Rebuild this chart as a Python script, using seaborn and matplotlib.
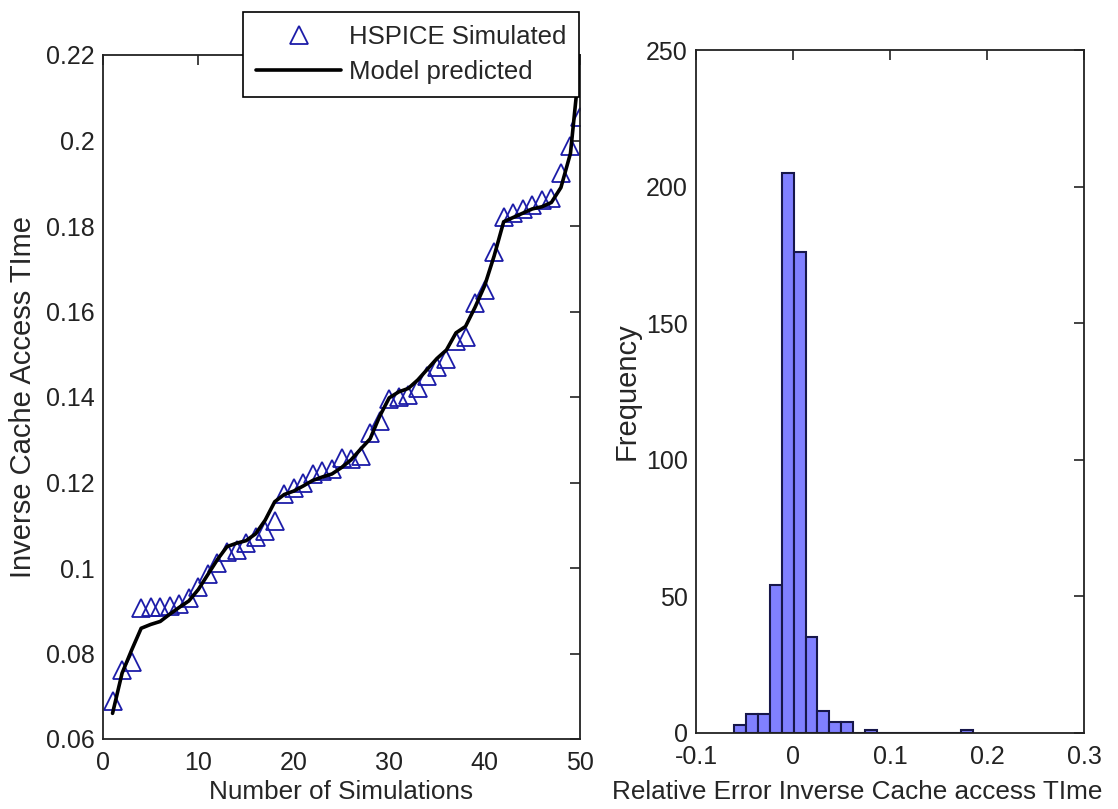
import numpy as np
import pandas as pd
import matplotlib
matplotlib.use("Agg")
import matplotlib.pyplot as plt
import seaborn as sns

# ---------------- data ----------------
sim_index = list(range(1, 51))
hspice_simulated = [0.0690, 0.0762, 0.0780, 0.0907, 0.0908, 0.0908, 0.0910, 0.0915, 0.0930, 0.0955,
                    0.0985, 0.1012, 0.1038, 0.1042, 0.1058, 0.1072, 0.1087, 0.1110, 0.1172, 0.1188,
                    0.1198, 0.1220, 0.1228, 0.1232, 0.1257, 0.1256, 0.1262, 0.1315, 0.1343, 0.1395,
                    0.1400, 0.1405, 0.1420, 0.1450, 0.1470, 0.1490, 0.1530, 0.1540, 0.1620, 0.1650,
                    0.1740, 0.1820, 0.1830, 0.1840, 0.1850, 0.1860, 0.1865, 0.1925, 0.1986, 0.2056]
model_predicted = [0.0660, 0.0754, 0.0808, 0.0859, 0.0868, 0.0875, 0.0892, 0.0908, 0.0923, 0.0950,
                   0.0985, 0.1020, 0.1050, 0.1058, 0.1064, 0.1080, 0.1112, 0.1155, 0.1172, 0.1180,
                   0.1192, 0.1205, 0.1213, 0.1220, 0.1235, 0.1253, 0.1278, 0.1302, 0.1355, 0.1398,
                   0.1412, 0.1420, 0.1440, 0.1465, 0.1490, 0.1510, 0.1550, 0.1565, 0.1610, 0.1660,
                   0.1730, 0.1810, 0.1820, 0.1830, 0.1840, 0.1845, 0.1855, 0.1890, 0.1970, 0.2190]

hist_bin_start = -0.0609
hist_bin_width = 0.0123
hist_counts = [3, 7, 7, 54, 205, 176, 35, 8, 4, 4, 0, 1, 0, 0, 0, 0, 0, 0, 0, 1]

left_xticks = [0, 10, 20, 30, 40, 50]
left_yticks = [0.06, 0.08, 0.10, 0.12, 0.14, 0.16, 0.18, 0.20, 0.22]
left_yticklabels = ["0.06", "0.08", "0.1", "0.12", "0.14", "0.16", "0.18", "0.2", "0.22"]
right_xticks = [-0.1, 0.0, 0.1, 0.2, 0.3]
right_xticklabels = ["-0.1", "0", "0.1", "0.2", "0.3"]
right_yticks = [0, 50, 100, 150, 200, 250]

# ---------------- style ----------------
sns.set_theme(style="white")
plt.rcParams["font.family"] = ["Liberation Sans", "DejaVu Sans"]
TICK_FS = 18
XLAB_FS = 18.8
YLAB_FS = 21
LEG_FS = 18.5

fig = plt.figure(figsize=(11.18, 8.09), dpi=100)
ax1 = fig.add_axes([103 / 1118, 1 - 739 / 809, (580 - 103) / 1118, (739 - 55) / 809])
ax2 = fig.add_axes([696 / 1118, 1 - 733 / 809, (1084 - 696) / 1118, (733 - 50) / 809])

df = pd.DataFrame({"n": sim_index, "hspice": hspice_simulated, "model": model_predicted})

sns.lineplot(data=df, x="n", y="hspice", ax=ax1, linestyle="none", marker="^",
             markersize=13, markerfacecolor="none", markeredgecolor="#1c1ca8",
             markeredgewidth=1.3, color="#1c1ca8", label="HSPICE Simulated", legend=False)
sns.lineplot(data=df, x="n", y="model", ax=ax1, color="black", linewidth=2.6,
             label="Model predicted", legend=False)

ax1.set_xlim(0, 50)
ax1.set_ylim(0.06, 0.22)
ax1.set_xticks(left_xticks)
ax1.set_xticklabels([str(t) for t in left_xticks])
ax1.set_yticks(left_yticks)
ax1.set_yticklabels(left_yticklabels)
ax1.set_xlabel("Number of Simulations", fontsize=XLAB_FS, labelpad=3)
ax1.set_ylabel("Inverse Cache Access TIme", fontsize=YLAB_FS, labelpad=6)

# histogram
n_bins = len(hist_counts)
edges = hist_bin_start + hist_bin_width * np.arange(n_bins + 1)
centers = (edges[:-1] + edges[1:]) / 2
hdf = pd.DataFrame({"err": centers, "count": hist_counts})
sns.histplot(data=hdf, x="err", weights="count", binwidth=hist_bin_width,
             binrange=(float(edges[0]), float(edges[-1])), ax=ax2,
             color="#8080ff", edgecolor="#17174a", linewidth=1.5, alpha=1.0)
ax2.set_xlim(-0.1, 0.3)
ax2.set_ylim(0, 250)
ax2.set_xticks(right_xticks)
ax2.set_xticklabels(right_xticklabels)
ax2.set_yticks(right_yticks)
ax2.set_yticklabels([str(t) for t in right_yticks])
ax2.set_xlabel("Relative Error Inverse Cache access TIme", fontsize=XLAB_FS, labelpad=3)
ax2.set_ylabel("Frequency", fontsize=YLAB_FS, labelpad=4)

for ax in (ax1, ax2):
    ax.tick_params(direction="in", top=True, right=True, length=7, width=1.2,
                   labelsize=TICK_FS, colors="#222222")
    ax.tick_params(axis="x", pad=9)
    ax.tick_params(axis="y", pad=6)
    for sp in ax.spines.values():
        sp.set_color("#222222")
        sp.set_linewidth(1.3)
    ax.set_facecolor("white")

# the right x-label sits a little left of the axes centre in the reference,
# at the same height as the left x-label
fig.canvas.draw()
left_top = ax1.xaxis.label.get_window_extent().y1
y_in_ax2 = ax2.transAxes.inverted().transform((0, left_top))[1]
ax2.xaxis.set_label_coords((857 - 696) / (1084 - 696), y_in_ax2)

handles, labels = ax1.get_legend_handles_labels()
leg = fig.legend(handles, labels, loc="upper right",
                 bbox_to_anchor=(579 / 1118, 1 - 12 / 809), borderaxespad=0,
                 frameon=True, fancybox=False, framealpha=1, edgecolor="black",
                 fontsize=LEG_FS, handlelength=3.3, handletextpad=0.3, borderpad=0.5,
                 labelspacing=0.45)
leg.get_frame().set_linewidth(1.2)

fig.savefig("out.png", dpi=100, facecolor="white")
